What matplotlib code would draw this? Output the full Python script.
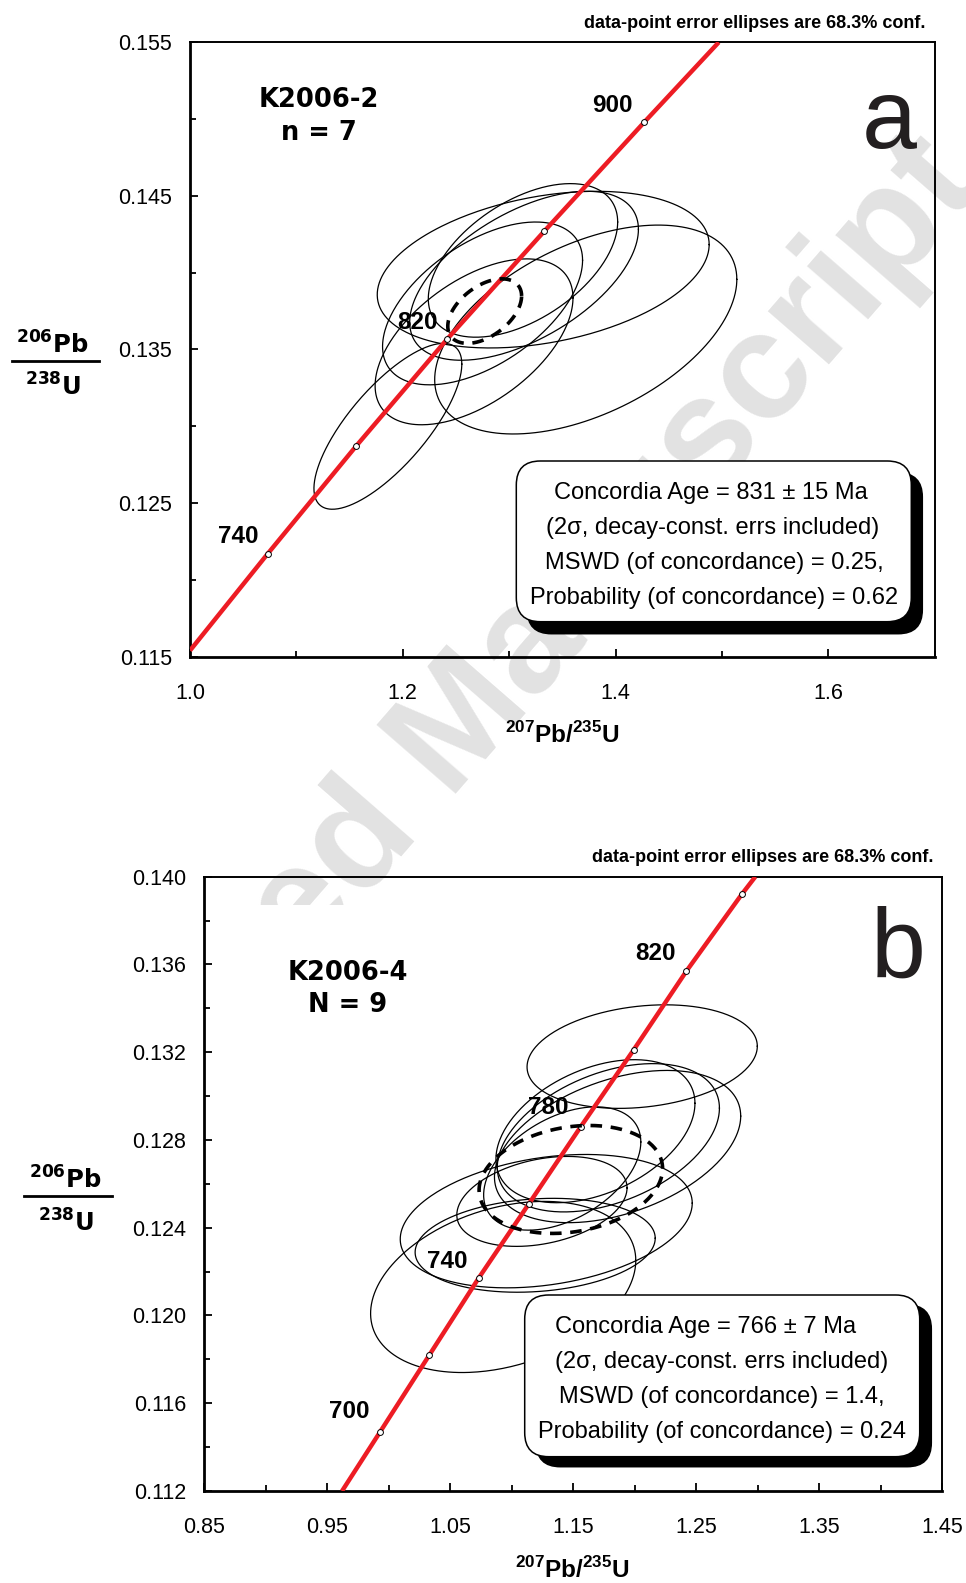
import numpy as np
import matplotlib
matplotlib.use('Agg')
import matplotlib.pyplot as plt
import matplotlib.transforms as mtransforms
from matplotlib.patches import FancyBboxPatch
from matplotlib.lines import Line2D
from matplotlib.ticker import MultipleLocator

plt.rcParams['font.family'] = ['Liberation Sans', 'DejaVu Sans']
plt.rcParams['mathtext.fontset'] = 'custom'
plt.rcParams['mathtext.bf'] = 'Liberation Sans:bold'
plt.rcParams['mathtext.rm'] = 'Liberation Sans'

W, H = 966, 1583  # output size in pixels (dpi 100)

# ---------------- panel a : K2006-2 ----------------
# concordia (ages marked 740..900 Ma), plus the curve ends
a_ages = [740, 780, 820, 860, 900]
a_age_x = [1.073, 1.156, 1.242, 1.333, 1.427]
a_age_y = [0.1217, 0.1287, 0.1357, 0.1427, 0.1498]
a_curve_x = [1.000] + a_age_x + [1.497]
a_curve_y = [0.1154] + a_age_y + [0.1550]
a_age_labels = ['740', '820', '900']

# data-point error ellipses: centre, half-width, half-height, correlation
a_ell_x = [1.186, 1.332, 1.313, 1.314, 1.275, 1.267, 1.372]
a_ell_y = [0.1300, 0.1402, 0.1408, 0.1398, 0.1380, 0.1355, 0.1363]
a_ell_sx = [0.0695, 0.156, 0.089, 0.1075, 0.094, 0.093, 0.142]
a_ell_sy = [0.0054, 0.0051, 0.0050, 0.0055, 0.0053, 0.0054, 0.0068]
a_ell_rho = [0.75, 0.32, 0.50, 0.55, 0.53, 0.53, 0.48]
# concordia age ellipse (dashed)
a_mean = [1.277, 0.1375, 0.0347, 0.0021, 0.47]

a_xticks = [1.0, 1.2, 1.4, 1.6]
a_xticklabels = ['1.0', '1.2', '1.4', '1.6']
a_yticks = [0.115, 0.125, 0.135, 0.145, 0.155]
a_yticklabels = ['0.115', '0.125', '0.135', '0.145', '0.155']
a_text = ['Concordia Age = 831 \u00b1 15 Ma',
          '(2\u03c3, decay-const. errs included)',
          'MSWD (of concordance) = 0.25,',
          'Probability (of concordance) = 0.62']

# ---------------- panel b : K2006-4 ----------------
b_ages = [700, 720, 740, 760, 780, 800, 820, 840]
b_age_x = [0.993, 1.033, 1.073, 1.114, 1.156, 1.199, 1.242, 1.287]
b_age_y = [0.1147, 0.1182, 0.1217, 0.1251, 0.1286, 0.1321, 0.1357, 0.1392]
b_curve_x = [0.962] + b_age_x + [1.298]
b_curve_y = [0.1120] + b_age_y + [0.1400]
b_age_labels = ['700', '740', '780', '820']

b_ell_x = [1.206, 1.168, 1.1785, 1.186, 1.141, 1.128, 1.119, 1.1245, 1.093]
b_ell_y = [0.1318, 0.1284, 0.1281, 0.1277, 0.1267, 0.1243, 0.1232, 0.1252, 0.1213]
b_ell_sx = [0.0936, 0.0809, 0.0903, 0.1001, 0.0639, 0.1187, 0.0976, 0.0692, 0.1078]
b_ell_sy = [0.00236, 0.00326, 0.00338, 0.00347, 0.00281, 0.00304, 0.00214, 0.00205, 0.00390]
b_ell_rho = [0.20, 0.39, 0.40, 0.40, 0.43, 0.27, 0.15, 0.30, 0.31]
b_mean = [1.148, 0.1262, 0.0746, 0.00246, 0.20]

b_xticks = [0.85, 0.95, 1.05, 1.15, 1.25, 1.35, 1.45]
b_xticklabels = ['0.85', '0.95', '1.05', '1.15', '1.25', '1.35', '1.45']
b_yticks = [0.112, 0.116, 0.120, 0.124, 0.128, 0.132, 0.136, 0.140]
b_yticklabels = ['0.112', '0.116', '0.120', '0.124', '0.128', '0.132', '0.136', '0.140']
b_text = ['Concordia Age = 766 \u00b1 7 Ma',
          '(2\u03c3, decay-const. errs included)',
          'MSWD (of concordance) = 1.4,',
          'Probability (of concordance) = 0.24']


def ellipse(cx, cy, sx, sy, rho, n=300):
    t = np.linspace(0, 2 * np.pi, n)
    return cx + sx * np.cos(t), cy + sy * (rho * np.cos(t) + np.sqrt(1 - rho ** 2) * np.sin(t))


def fx(px):
    return px / W


def fy(py):
    return 1 - py / H


fig = plt.figure(figsize=(W / 100, H / 100), dpi=100)

# watermark behind everything, only over the upper part of the page
wm = fig.text(fx(984), fy(186), 'Accepted Manuscript', rotation=49, rotation_mode='anchor',
              ha='right', va='baseline', fontsize=110, fontweight='bold',
              color='#e2e2e2', zorder=-1)
wm.set_clip_box(mtransforms.TransformedBbox(
    mtransforms.Bbox([[0, fy(905)], [1, 1]]), fig.transFigure))
wm.set_clip_on(True)


def panel(rect_px, xlim, ylim, xminor, yminor, xticks, xtl, yticks, ytl,
          cx, cy, ages_x, ages_y, ex, ey, esx, esy, erho, mean):
    x0, y0, x1, y1 = rect_px
    ax = fig.add_axes([fx(x0), fy(y1), (x1 - x0) / W, (y1 - y0) / H])
    ax.patch.set_alpha(0)
    for i in range(len(ex)):
        xs, ys = ellipse(ex[i], ey[i], esx[i], esy[i], erho[i])
        ax.plot(xs, ys, color='black', lw=0.9, zorder=2)
    ax.plot(cx, cy, color='#ed1c24', lw=3.2, solid_capstyle='butt', zorder=3)
    ax.plot(ages_x, ages_y, 'o', ms=4.2, mfc='white', mec='black', mew=0.7, zorder=4)
    xs, ys = ellipse(*mean)
    ax.plot(xs, ys, color='black', lw=2.6, linestyle=(0, (3.2, 2.4)), zorder=5)
    ax.set_xlim(xlim)
    ax.set_ylim(ylim)
    ax.set_xticks(xticks)
    ax.set_xticklabels(xtl)
    ax.set_yticks(yticks)
    ax.set_yticklabels(ytl)
    ax.xaxis.set_minor_locator(MultipleLocator(xminor))
    ax.yaxis.set_minor_locator(MultipleLocator(yminor))
    ax.tick_params(which='both', direction='in', width=1.3, labelsize=15.5)
    ax.tick_params(which='major', length=6)
    ax.tick_params(which='minor', length=4.5)
    ax.tick_params(axis='y', pad=13)
    ax.tick_params(axis='x', pad=19)
    for s in ['left', 'bottom']:
        ax.spines[s].set_linewidth(2.0)
    for s in ['top', 'right']:
        ax.spines[s].set_linewidth(1.4)
    return ax


ax_a = panel((190, 42.3, 934.7, 656.7), (1.0, 1.7), (0.115, 0.155), 0.1, 0.005,
             a_xticks, a_xticklabels, a_yticks, a_yticklabels,
             a_curve_x, a_curve_y, a_age_x, a_age_y,
             a_ell_x, a_ell_y, a_ell_sx, a_ell_sy, a_ell_rho, a_mean)
ax_b = panel((204.3, 876.7, 942.3, 1491), (0.85, 1.45), (0.112, 0.140), 0.05, 0.002,
             b_xticks, b_xticklabels, b_yticks, b_yticklabels,
             b_curve_x, b_curve_y, b_age_x, b_age_y,
             b_ell_x, b_ell_y, b_ell_sx, b_ell_sy, b_ell_rho, b_mean)

# age labels on the concordia
lab_kw = dict(fontsize=17.5, fontweight='bold', ha='center', va='baseline', zorder=6)
for lab, (px, py) in zip(a_age_labels, [(238, 543), (418, 329), (612, 111.5)]):
    fig.text(fx(px), fy(py), lab, **lab_kw)
for lab, (px, py) in zip(b_age_labels, [(349, 1418), (447, 1268), (548, 1114), (655, 960.5)]):
    fig.text(fx(px), fy(py), lab, **lab_kw)

# sample names
name_kw = dict(fontsize=18.5, fontweight='bold', family='DejaVu Sans', ha='center', va='baseline')
fig.text(fx(319), fy(107), 'K2006-2', **name_kw)
fig.text(fx(319), fy(140), 'n = 7', **name_kw)
fig.text(fx(347.5), fy(980.5), 'K2006-4', **name_kw)
fig.text(fx(347.5), fy(1012.5), 'N = 9', **name_kw)

# panel letters
fig.text(fx(889.5), fy(148), 'a', fontsize=71, color='#231f20', ha='center', va='baseline')
fig.text(fx(898.5), fy(977), 'b', fontsize=71, color='#231f20', ha='center', va='baseline')

# ellipse note above each panel
note_kw = dict(fontsize=13, fontweight='bold', ha='right', va='baseline')
fig.text(fx(926), fy(28.3), 'data-point error ellipses are 68.3% conf.', **note_kw)
fig.text(fx(933), fy(861.5), 'data-point error ellipses are 68.3% conf.', **note_kw)

# axis labels
fig.text(fx(562), fy(743), r'$^{\mathbf{207}}\mathbf{Pb/}^{\mathbf{235}}\mathbf{U}$',
         fontsize=17.5, ha='center', va='baseline')
fig.text(fx(572), fy(1578), r'$^{\mathbf{207}}\mathbf{Pb/}^{\mathbf{235}}\mathbf{U}$',
         fontsize=17.5, ha='center', va='baseline')

for cxp, y_num, y_line, y_den, x0, x1 in [(52.5, 354, 361, 396, 12, 99),
                                          (65.5, 1189, 1196, 1231.5, 24, 112)]:
    fig.text(fx(cxp), fy(y_num), r'$^{\mathbf{206}}\mathbf{Pb}$', fontsize=17.5,
             ha='center', va='baseline', math_fontfamily='dejavusans')
    fig.text(fx(cxp), fy(y_den), r'$^{\mathbf{238}}\mathbf{U}$', fontsize=17.5,
             ha='center', va='baseline', math_fontfamily='dejavusans')
    fig.add_artist(Line2D([fx(x0), fx(x1)], [fy(y_line), fy(y_line)],
                          transform=fig.transFigure, color='black', lw=2))


# result boxes with drop shadow
def result_box(x0, y0, x1, y1, dx, dy, lines, line_x, base_y, step):
    for ox, oy, fc, z in [(dx, dy, 'black', 7), (0, 0, 'white', 8)]:
        p = FancyBboxPatch((x0 + ox, H - (y1 + oy)), x1 - x0, y1 - y0,
                           boxstyle='round,pad=0,rounding_size=24',
                           transform=mtransforms.IdentityTransform(),
                           fc=fc, ec='black', lw=1.1, zorder=z)
        fig.add_artist(p)
    for i, line in enumerate(lines):
        fig.text(fx(line_x[i]), fy(base_y + i * step), line, fontsize=17,
                 ha='center', va='baseline', zorder=9)


result_box(516.3, 461, 911.3, 621.7, 11, 12, a_text, [710.5, 713, 714, 714], 499.3, 34.9)
result_box(524.7, 1295, 919.7, 1456.7, 11.6, 10, b_text, [706, 722, 722, 722], 1332.7, 35.2)

fig.savefig('out.png', dpi=100)
